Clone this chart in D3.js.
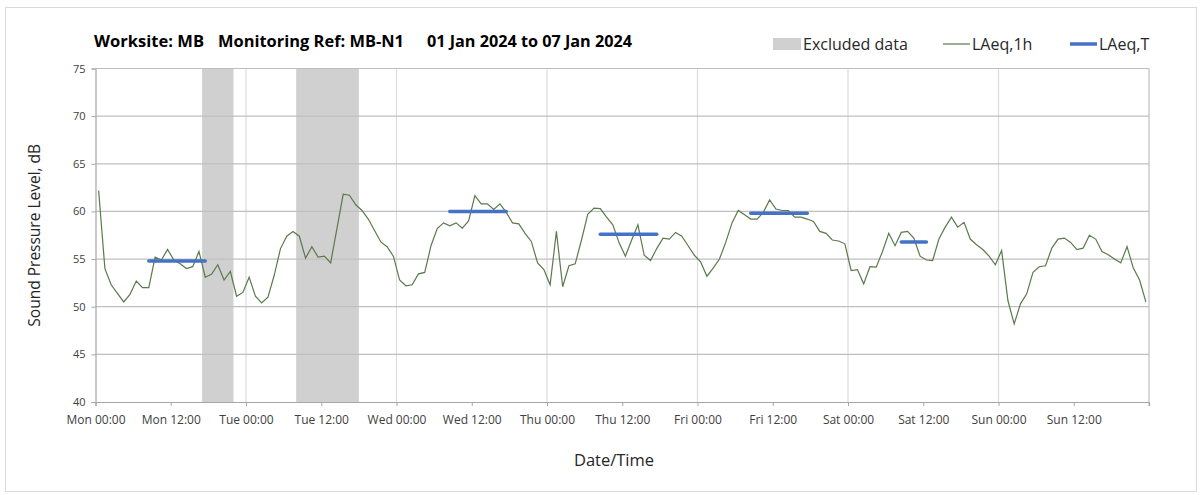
<!DOCTYPE html>
<html>
<head>
<meta charset="utf-8">
<title>LAeq chart</title>
<script src="https://cdn.jsdelivr.net/npm/d3@7"></script>
<style>
  body { margin: 0; background: #fff; }
  text { font-family: "Open Sans", sans-serif; }
</style>
</head>
<body>
<script>
// hourly data, Mon 01 Jan 2024 00:00 onward (UTC)
var startTime = "2024-01-01T00:00:00Z";
var endTime = "2024-01-08T00:00:00Z";
var laeq1h = [
  62.2, 54.0, 52.3, 51.4, 50.5, 51.3, 52.7, 52.0, 52.0,
  55.2, 54.9, 56.0, 54.9, 54.5, 54.0, 54.2, 55.8, 53.1, 53.4, 54.4, 52.8, 53.7, 51.1, 51.5,
  53.1, 51.1, 50.4, 51.0, 53.3, 56.1, 57.4, 57.9, 57.4, 55.1, 56.3, 55.2, 55.3, 54.6, 58.2, 61.8, 61.7, 60.7, 60.1, 59.2, 58.0, 56.8, 56.3, 55.3,
  52.8, 52.2, 52.3, 53.45, 53.6, 56.4, 58.2, 58.8, 58.5, 58.8, 58.25, 59.0, 61.65, 60.8, 60.8, 60.2, 60.8, 59.9, 58.8, 58.7, 57.7, 56.85, 54.6, 53.9,
  52.3, 57.9, 52.1, 54.3, 54.5, 57.0, 59.7, 60.35, 60.3, 59.4, 58.6, 56.7, 55.3, 57.0, 58.6, 55.4, 54.85, 56.1, 57.2, 57.1, 57.8, 57.4, 56.4, 55.4,
  54.7, 53.2, 54.05, 55.0, 56.75, 58.8, 60.1, 59.65, 59.2, 59.2, 59.9, 61.2, 60.25, 60.1, 60.1, 59.4, 59.4, 59.2, 58.95, 57.9, 57.7, 57.0, 56.9, 56.6,
  53.8, 53.9, 52.4, 54.2, 54.15, 55.8, 57.7, 56.4, 57.8, 57.9, 57.2, 55.3, 54.9, 54.85, 57.1, 58.35, 59.4, 58.35, 58.85, 57.1, 56.5, 56.0, 55.3, 54.4,
  55.9, 50.65, 48.2, 50.3, 51.35, 53.6, 54.2, 54.3, 56.15, 57.1, 57.2, 56.75, 56.0, 56.15, 57.5, 57.1, 55.8, 55.45, 55.0, 54.6, 56.3, 54.05, 52.8, 50.5
];
var excludedStart = ["2024-01-01T17:00:00Z", "2024-01-02T08:00:00Z"];
var excludedEnd   = ["2024-01-01T22:00:00Z", "2024-01-02T18:00:00Z"];
var laeqTStart = ["2024-01-01T08:30:00Z", "2024-01-03T08:30:00Z", "2024-01-04T08:30:00Z", "2024-01-05T08:30:00Z", "2024-01-06T08:30:00Z"];
var laeqTEnd   = ["2024-01-01T17:30:00Z", "2024-01-03T17:30:00Z", "2024-01-04T17:30:00Z", "2024-01-05T17:30:00Z", "2024-01-06T12:30:00Z"];
var laeqTValue = [54.8, 60.0, 57.6, 59.8, 56.8];
var yTicks = [40, 45, 50, 55, 60, 65, 70, 75];
var titleParts = ["Worksite: MB", "Monitoring Ref: MB-N1", "01 Jan 2024 to 07 Jan 2024"];
var legendLabels = ["Excluded data", "LAeq,1h", "LAeq,T"];

var width = 1203, height = 495;
var plotL = 95.5, plotR = 1149, plotT = 68.5, plotB = 402;

var svg = d3.select("body").append("svg")
    .attr("width", width)
    .attr("height", height);

// outer frame
svg.append("rect")
    .attr("x", 5.5).attr("y", 7.5)
    .attr("width", 1191).attr("height", 484)
    .attr("fill", "none")
    .attr("stroke", "#d9d9d9");

var t0 = new Date(startTime), t1 = new Date(endTime);
var x = d3.scaleUtc().domain([t0, t1]).range([plotL, plotR]);
var y = d3.scaleLinear().domain([40, 75]).range([plotB, plotT]);

// excluded bands
svg.append("g").selectAll("rect")
    .data(excludedStart).enter().append("rect")
    .attr("x", function (d) { return x(new Date(d)); })
    .attr("y", plotT)
    .attr("width", function (d, i) { return x(new Date(excludedEnd[i])) - x(new Date(d)); })
    .attr("height", plotB - plotT)
    .attr("fill", "#d0d0d0");

// vertical gridlines at midnight
var days = d3.utcDay.range(d3.utcDay.offset(t0, 1), t1);
svg.append("g").selectAll("line")
    .data(days).enter().append("line")
    .attr("x1", function (d) { return x(d); })
    .attr("x2", function (d) { return x(d); })
    .attr("y1", plotT).attr("y2", plotB)
    .attr("stroke", "#dcdcdc")
    .attr("stroke-width", 1.2);

// horizontal gridlines
svg.append("g").selectAll("line")
    .data(yTicks.slice(1)).enter().append("line")
    .attr("x1", plotL).attr("x2", plotR)
    .attr("y1", function (d) { return y(d); })
    .attr("y2", function (d) { return y(d); })
    .attr("stroke", "#bfbfbf")
    .attr("stroke-width", 1.2);

// right border
svg.append("line")
    .attr("x1", plotR).attr("x2", plotR)
    .attr("y1", plotT).attr("y2", plotB + 4)
    .attr("stroke", "#bfbfbf")
    .attr("stroke-width", 1.2);

// axes
var yAxis = d3.axisLeft(y).tickValues(yTicks).tickSize(4).tickPadding(6);
var gy = svg.append("g")
    .attr("transform", "translate(" + plotL + ",0)")
    .call(yAxis);

var xTicks = d3.utcHour.every(12).range(t0, t1);
var xAxis = d3.axisBottom(x).tickValues(xTicks).tickSize(4).tickPadding(9)
    .tickFormat(d3.utcFormat("%a %H:%M"));
var gx = svg.append("g")
    .attr("transform", "translate(0," + plotB + ")")
    .call(xAxis);

[gx, gy].forEach(function (g) {
    g.select(".domain").attr("stroke", "#a6a6a6").attr("stroke-width", 1.2);
    g.selectAll(".tick line").attr("stroke", "#a6a6a6");
    g.selectAll(".tick text").attr("fill", "#404040");
});
gx.selectAll(".tick text").style("font-size", "12px");
gy.selectAll(".tick text").style("font-size", "11px");

// LAeq,1h line
var line = d3.line()
    .x(function (d, i) { return x(d3.utcMinute.offset(t0, i * 60 + 30)); })
    .y(function (d) { return y(d); });
svg.append("path")
    .datum(laeq1h)
    .attr("d", line)
    .attr("fill", "none")
    .attr("stroke", "#5a7a4c")
    .attr("stroke-width", 1.2);

// LAeq,T segments
svg.append("g").selectAll("line")
    .data(laeqTValue).enter().append("line")
    .attr("x1", function (d, i) { return x(new Date(laeqTStart[i])); })
    .attr("x2", function (d, i) { return x(new Date(laeqTEnd[i])); })
    .attr("y1", function (d) { return y(d); })
    .attr("y2", function (d) { return y(d); })
    .attr("stroke", "#4472c4")
    .attr("stroke-width", 3.5)
    .attr("stroke-linecap", "round");

// axis titles
svg.append("text")
    .attr("transform", "translate(40," + ((plotT + plotB) / 2) + ") rotate(-90)")
    .attr("text-anchor", "middle")
    .attr("fill", "#262626")
    .style("font-size", "15.5px")
    .text("Sound Pressure Level, dB");
svg.append("text")
    .attr("x", 614).attr("y", 466)
    .attr("text-anchor", "middle")
    .attr("fill", "#262626")
    .style("font-size", "16.5px")
    .text("Date/Time");

// title
var titleX = [94, 218, 427];
var titleW = [110, 186, 205];
svg.append("g").selectAll("text")
    .data(titleParts).enter().append("text")
    .attr("x", function (d, i) { return titleX[i]; })
    .attr("y", 47)
    .attr("fill", "#000")
    .attr("textLength", function (d, i) { return titleW[i]; })
    .attr("lengthAdjust", "spacingAndGlyphs")
    .style("font-size", "15.5px")
    .style("font-weight", "bold")
    .text(function (d) { return d; });

// legend
var lg = svg.append("g");
lg.append("rect").attr("x", 773).attr("y", 38).attr("width", 28).attr("height", 12).attr("fill", "#d0d0d0");
lg.append("line").attr("x1", 943).attr("x2", 970).attr("y1", 44).attr("y2", 44)
    .attr("stroke", "#5a7a4c").attr("stroke-width", 1.2);
lg.append("line").attr("x1", 1070).attr("x2", 1097).attr("y1", 44).attr("y2", 44)
    .attr("stroke", "#4472c4").attr("stroke-width", 3.5);
var legendX = [803, 972, 1099];
lg.selectAll("text")
    .data(legendLabels).enter().append("text")
    .attr("x", function (d, i) { return legendX[i]; })
    .attr("y", 50)
    .attr("fill", "#262626")
    .style("font-size", "16px")
    .text(function (d) { return d; });
</script>
</body>
</html>
